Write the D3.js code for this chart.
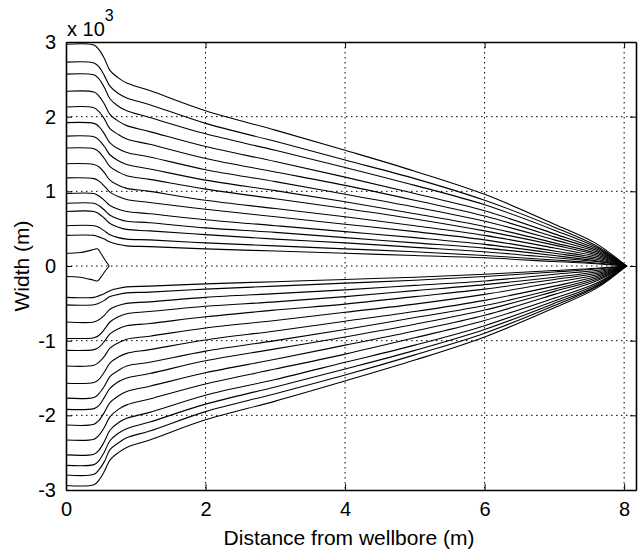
<!DOCTYPE html>
<html>
<head>
<meta charset="utf-8">
<script src="https://cdn.jsdelivr.net/npm/d3@7"></script>
<style>
  body { margin: 0; background: #fff; }
  svg { display: block; font-family: "Liberation Sans", Arial, sans-serif; }
</style>
</head>
<body>
<div id="chart"></div>
<script>
// x positions (m) where the width profiles were read
const xStations = [0, 0.40, 0.47, 0.55, 0.63, 0.75, 0.87, 1.2, 2, 3, 4, 5, 6, 7, 7.6, 8.03];

// upper half profiles, outer to inner (x 10^3 m)
const upperCurves = [
  [2.97, 2.96, 2.90, 2.78, 2.62, 2.52, 2.45, 2.35, 2.08, 1.82, 1.55, 1.27, 0.96, 0.56, 0.30, 0],
  [2.73, 2.72, 2.67, 2.55, 2.41, 2.31, 2.25, 2.16, 1.91, 1.67, 1.42, 1.17, 0.88, 0.52, 0.27, 0],
  [2.57, 2.56, 2.51, 2.39, 2.24, 2.14, 2.08, 1.99, 1.77, 1.55, 1.32, 1.08, 0.82, 0.48, 0.25, 0],
  [2.34, 2.33, 2.28, 2.17, 2.03, 1.94, 1.88, 1.80, 1.60, 1.40, 1.19, 0.97, 0.74, 0.43, 0.23, 0],
  [2.13, 2.12, 2.07, 1.97, 1.84, 1.76, 1.70, 1.63, 1.44, 1.26, 1.08, 0.88, 0.67, 0.39, 0.21, 0],
  [1.92, 1.91, 1.87, 1.77, 1.65, 1.57, 1.52, 1.46, 1.29, 1.13, 0.96, 0.79, 0.60, 0.35, 0.19, 0],
  [1.74, 1.73, 1.69, 1.60, 1.49, 1.41, 1.36, 1.30, 1.15, 1.01, 0.86, 0.70, 0.53, 0.31, 0.17, 0],
  [1.58, 1.57, 1.53, 1.44, 1.33, 1.26, 1.21, 1.16, 1.03, 0.90, 0.77, 0.63, 0.47, 0.28, 0.15, 0],
  [1.37, 1.36, 1.33, 1.25, 1.15, 1.08, 1.04, 1.00, 0.88, 0.77, 0.66, 0.54, 0.41, 0.24, 0.13, 0],
  [1.18, 1.17, 1.14, 1.07, 0.99, 0.93, 0.89, 0.85, 0.76, 0.66, 0.56, 0.46, 0.35, 0.20, 0.11, 0],
  [0.97, 0.97, 0.94, 0.88, 0.81, 0.76, 0.73, 0.70, 0.62, 0.54, 0.46, 0.38, 0.29, 0.17, 0.09, 0],
  [0.84, 0.84, 0.81, 0.75, 0.68, 0.63, 0.60, 0.58, 0.51, 0.45, 0.38, 0.31, 0.24, 0.14, 0.07, 0],
  [0.73, 0.73, 0.70, 0.64, 0.57, 0.52, 0.49, 0.47, 0.42, 0.36, 0.31, 0.25, 0.19, 0.11, 0.06, 0],
  [0.54, 0.54, 0.52, 0.47, 0.42, 0.38, 0.36, 0.35, 0.31, 0.27, 0.23, 0.19, 0.14, 0.08, 0.04, 0],
  [0.41, 0.41, 0.39, 0.36, 0.32, 0.29, 0.27, 0.26, 0.23, 0.20, 0.17, 0.14, 0.11, 0.06, 0.03, 0]
];

// lower half profiles, inner to outer
const lowerCurves = [
  [-0.42, -0.42, -0.40, -0.37, -0.33, -0.30, -0.28, -0.27, -0.24, -0.21, -0.18, -0.15, -0.11, -0.06, -0.03, 0],
  [-0.52, -0.52, -0.50, -0.46, -0.41, -0.38, -0.36, -0.35, -0.31, -0.27, -0.23, -0.19, -0.14, -0.08, -0.04, 0],
  [-0.75, -0.75, -0.72, -0.66, -0.58, -0.53, -0.50, -0.48, -0.42, -0.37, -0.32, -0.26, -0.20, -0.11, -0.06, 0],
  [-0.97, -0.96, -0.93, -0.85, -0.75, -0.68, -0.64, -0.61, -0.54, -0.48, -0.41, -0.33, -0.25, -0.15, -0.08, 0],
  [-1.13, -1.12, -1.09, -1.01, -0.91, -0.84, -0.80, -0.77, -0.68, -0.59, -0.51, -0.41, -0.31, -0.18, -0.10, 0],
  [-1.34, -1.33, -1.29, -1.21, -1.10, -1.03, -0.98, -0.94, -0.83, -0.73, -0.62, -0.51, -0.38, -0.22, -0.12, 0],
  [-1.57, -1.56, -1.52, -1.42, -1.30, -1.22, -1.17, -1.12, -0.99, -0.87, -0.74, -0.61, -0.46, -0.27, -0.14, 0],
  [-1.77, -1.76, -1.71, -1.61, -1.48, -1.40, -1.34, -1.29, -1.14, -1.00, -0.85, -0.69, -0.53, -0.31, -0.16, 0],
  [-1.92, -1.91, -1.87, -1.76, -1.64, -1.55, -1.50, -1.44, -1.27, -1.11, -0.95, -0.78, -0.59, -0.34, -0.18, 0],
  [-2.13, -2.12, -2.07, -1.96, -1.83, -1.74, -1.68, -1.61, -1.43, -1.25, -1.06, -0.87, -0.66, -0.38, -0.20, 0],
  [-2.33, -2.32, -2.27, -2.16, -2.02, -1.92, -1.86, -1.78, -1.58, -1.38, -1.18, -0.96, -0.73, -0.43, -0.23, 0],
  [-2.53, -2.52, -2.47, -2.35, -2.20, -2.10, -2.04, -1.96, -1.73, -1.52, -1.29, -1.06, -0.80, -0.47, -0.25, 0],
  [-2.67, -2.66, -2.61, -2.49, -2.34, -2.24, -2.18, -2.09, -1.85, -1.62, -1.38, -1.13, -0.85, -0.50, -0.27, 0],
  [-2.80, -2.79, -2.73, -2.62, -2.46, -2.37, -2.30, -2.21, -1.95, -1.71, -1.46, -1.19, -0.90, -0.53, -0.28, 0],
  [-2.94, -2.93, -2.87, -2.75, -2.60, -2.50, -2.43, -2.33, -2.06, -1.81, -1.54, -1.26, -0.95, -0.56, -0.30, 0]
];

// earliest (short) profile, closes near the wellbore
const innerX = [0, 0.2, 0.4, 0.45, 0.5, 0.56, 0.62];
const innerUpper = [0.17, 0.18, 0.22, 0.23, 0.17, 0.08, 0];
const innerLower = [-0.14, -0.15, -0.19, -0.20, -0.15, -0.07, 0];

const xTicks = [0, 2, 4, 6, 8];
const yTicks = [-3, -2, -1, 0, 1, 2, 3];

const width = 640, height = 552;
const margin = { top: 42, right: 4, bottom: 62, left: 66 };
const innerWidth = width - margin.left - margin.right;
const innerHeight = height - margin.top - margin.bottom;

const svg = d3.select('#chart').append('svg')
  .attr('width', width)
  .attr('height', height);

const g = svg.append('g')
  .attr('transform', `translate(${margin.left},${margin.top})`);

const x = d3.scaleLinear().domain([0, 8.17]).range([0, innerWidth]);
const y = d3.scaleLinear().domain([-3, 3]).range([innerHeight, 0]);

// dotted grid
g.append('g').selectAll('line')
  .data(xTicks.filter(d => d > 0))
  .enter().append('line')
  .attr('x1', d => x(d)).attr('x2', d => x(d))
  .attr('y1', 0).attr('y2', innerHeight)
  .attr('stroke', '#000').attr('stroke-width', 1)
  .attr('stroke-dasharray', '1.5,3.5');

g.append('g').selectAll('line')
  .data(yTicks.filter(d => d > -3 && d < 3))
  .enter().append('line')
  .attr('x1', 0).attr('x2', innerWidth)
  .attr('y1', d => y(d)).attr('y2', d => y(d))
  .attr('stroke', '#000').attr('stroke-width', 1)
  .attr('stroke-dasharray', '1.5,3.5');

// profiles
const line = d3.line()
  .x(d => x(d[0]))
  .y(d => y(d[1]))
  .curve(d3.curveCatmullRom.alpha(0.5));

const allCurves = upperCurves.concat(lowerCurves)
  .map(vals => vals.map((v, i) => [xStations[i], v]));
allCurves.push(innerUpper.map((v, i) => [innerX[i], v]));
allCurves.push(innerLower.map((v, i) => [innerX[i], v]));

g.append('g').selectAll('path')
  .data(allCurves)
  .enter().append('path')
  .attr('d', line)
  .attr('fill', 'none')
  .attr('stroke', '#000')
  .attr('stroke-width', 1.1);

// axes (ticks inward, box); plain hyphen for negatives like the original
const fmt = d => String(d);
g.append('g')
  .attr('transform', `translate(0,${innerHeight})`)
  .call(d3.axisBottom(x).tickValues(xTicks).tickFormat(fmt)
    .tickSizeInner(-6).tickSizeOuter(0).tickPadding(12));
g.append('g')
  .call(d3.axisLeft(y).tickValues(yTicks).tickFormat(fmt)
    .tickSizeInner(-6).tickSizeOuter(0).tickPadding(10));

g.append('g')
  .call(d3.axisTop(x).tickValues(xTicks).tickSizeInner(-6).tickSizeOuter(0).tickFormat(''));
g.append('g')
  .attr('transform', `translate(${innerWidth},0)`)
  .call(d3.axisRight(y).tickValues(yTicks).tickSizeInner(-6).tickSizeOuter(0).tickFormat(''));

g.selectAll('.domain').attr('stroke', '#000').attr('stroke-width', 1.6);
g.selectAll('.tick line').attr('stroke', '#000');
g.selectAll('.tick text')
  .style('font-size', '20px')
  .style('font-family', '"Liberation Sans", Arial, sans-serif')
  .attr('fill', '#000');

// exponent label
const expo = svg.append('text')
  .attr('x', margin.left + 1)
  .attr('y', 36)
  .style('font-size', '20px')
  .attr('fill', '#000');
expo.append('tspan').text('x 10');
expo.append('tspan').attr('dy', -15).style('font-size', '16px').text('3');

// axis titles
svg.append('text')
  .attr('x', margin.left + innerWidth / 2 - 2)
  .attr('y', 545)
  .attr('text-anchor', 'middle')
  .style('font-size', '21px')
  .attr('fill', '#000')
  .text('Distance from wellbore (m)');

svg.append('text')
  .attr('transform', 'rotate(-90)')
  .attr('x', -(margin.top + innerHeight / 2))
  .attr('y', 29)
  .attr('text-anchor', 'middle')
  .style('font-size', '21px')
  .attr('fill', '#000')
  .text('Width (m)');
</script>
</body>
</html>
